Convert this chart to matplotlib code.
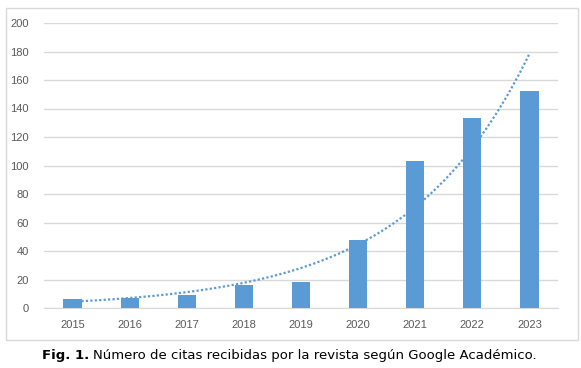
import numpy as np
import matplotlib.pyplot as plt
from matplotlib.patches import Rectangle

# citations per year
years = ["2015", "2016", "2017", "2018", "2019", "2020", "2021", "2022", "2023"]
citas = [6, 7, 9, 16, 18, 48, 103, 133, 152]

W, H = 581, 368
fig = plt.figure(figsize=(W / 100, H / 100), dpi=100)

# outer chart frame
fig.patches.append(Rectangle((6 / W, 1 - 340 / H), 572 / W, 332 / H,
                             transform=fig.transFigure, fill=False,
                             edgecolor="#D9D9D9", linewidth=1))

ax = fig.add_axes([44 / W, 1 - 308 / H, 514 / W, 285 / H])
x = np.arange(1, len(years) + 1)
ax.bar(x, citas, width=0.32, color="#5B9BD5", zorder=3)

# exponential trend line (least squares on log values, like Excel)
b, a = np.polyfit(x, np.log(citas), 1)
xt = np.linspace(x[0], x[-1], 200)
ax.plot(xt, np.exp(a + b * xt), color="#5B9BD5", linestyle=(0, (1, 1)),
        linewidth=1.6, zorder=4)

ax.set_xlim(0.5, len(years) + 0.5)
ax.set_ylim(0, 200)
ax.set_yticks(range(0, 201, 20))
ax.set_xticks(x)
ax.set_xticklabels(years)
ax.grid(axis="y", color="#D9D9D9", linewidth=1, zorder=0)
for s in ["top", "right", "left"]:
    ax.spines[s].set_visible(False)
ax.spines["bottom"].set_color("#D9D9D9")
ax.tick_params(length=0, colors="#595959", labelsize=8)
ax.tick_params(axis="x", pad=9)
ax.tick_params(axis="y", pad=11)
for lab in ax.get_xticklabels() + ax.get_yticklabels():
    lab.set_fontfamily("Liberation Sans")

# caption: bold "Fig. 1." followed by normal text
cy = 1 - 356 / H
t1 = fig.text(42 / W, cy, "Fig. 1.", fontweight="bold", fontsize=9.5,
              family="DejaVu Sans", va="center", ha="left")
fig.canvas.draw()
bb = t1.get_window_extent()
fig.text((bb.x1 + 4) / W, cy, "Número de citas recibidas por la revista según Google Académico.",
         fontsize=9.5, family="DejaVu Sans", va="center", ha="left")

fig.savefig("out.png", dpi=100)
